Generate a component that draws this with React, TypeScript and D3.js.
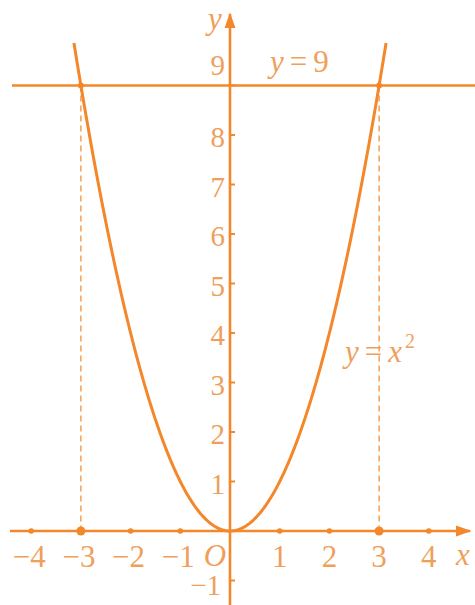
import React from "react";
import * as d3 from "d3";

const xTicks = [-4, -3, -2, -1, 1, 2, 3, 4];
const yTicks = [1, 2, 3, 4, 5, 6, 7, 8, 9];
const lineLevel = 9;
const intersections = [-3, 3];
const curveLimit = 3.14;

const W = 475;
const H = 605;
const STROKE = "#F3872A";
const TEXT = "#EF9F5C";
const FONT = "Liberation Serif, Times New Roman, serif";

export default function App() {
  const x = d3.scaleLinear().domain([0, 1]).range([230, 279.7]);
  const y = d3.scaleLinear().domain([0, 1]).range([531, 481.5]);

  const pts = d3.range(-curveLimit, curveLimit + 0.0001, 0.02).map((v) => [v, v * v] as [number, number]);
  const path = d3
    .line<[number, number]>()
    .x((d) => x(d[0]))
    .y((d) => y(d[1]))(pts);

  const x0 = x(0);
  const y0 = y(0);
  const fs = 31;

  return (
    <svg width={W} height={H} style={{ position: "absolute", left: 0, top: 0, background: "#fff" }}>
      <defs>
        <marker id="arr" viewBox="0 0 10 10" refX="9" refY="5" markerWidth="6" markerHeight="6" orient="auto">
          <path d="M0,1.5 L10,5 L0,8.5 z" fill={STROKE} />
        </marker>
      </defs>
      {/* x axis */}
      <line x1={10} x2={470} y1={y0} y2={y0} stroke={STROKE} strokeWidth={2.6} markerEnd="url(#arr)" />
      {/* y axis */}
      <line x1={x0} x2={x0} y1={605} y2={14} stroke={STROKE} strokeWidth={2.6} markerEnd="url(#arr)" />
      {/* horizontal line y=9 */}
      <line x1={12} x2={475} y1={y(lineLevel)} y2={y(lineLevel)} stroke={STROKE} strokeWidth={2.6} />
      {/* dashed verticals */}
      {intersections.map((v) => (
        <line key={v} x1={x(v)} x2={x(v)} y1={y(lineLevel)} y2={y0} stroke={STROKE} strokeWidth={1.2} strokeDasharray="6,4" />
      ))}
      {/* parabola */}
      <path d={path || ""} fill="none" stroke={STROKE} strokeWidth={3} />
      {/* x ticks */}
      {xTicks.map((t) => (
        <circle key={t} cx={x(t)} cy={y0} r={Math.abs(t) === 3 ? 4.5 : 2.8} fill={STROKE} />
      ))}
      {intersections.map((v) => (
        <circle key={"p" + v} cx={x(v)} cy={y(lineLevel)} r={3} fill={STROKE} />
      ))}
      {/* y ticks */}
      {yTicks.concat([-1]).map((t) => (
        <line key={t} x1={x0} x2={x0 + 5} y1={y(t)} y2={y(t)} stroke={STROKE} strokeWidth={2} />
      ))}
      {/* x tick labels */}
      {xTicks.map((t) => (
        <text key={t} x={x(t) + (t < 0 ? -2 : 0)} y={y0 + 36} fill={TEXT} fontFamily={FONT} fontSize={fs} textAnchor="middle">
          {t < 0 ? "\u2212" + Math.abs(t) : String(t)}
        </text>
      ))}
      <text x={x0 - 15} y={y0 + 35} fill={TEXT} fontFamily={FONT} fontSize={fs} fontStyle="italic" textAnchor="middle">
        O
      </text>
      <text x={463} y={y0 + 34} fill={TEXT} fontFamily={FONT} fontSize={fs} fontStyle="italic" textAnchor="middle">
        x
      </text>
      {/* y tick labels */}
      {yTicks.map((t) => (
        <text key={t} x={x0 - 5} y={y(t) + (t === 9 ? -11 : 12)} fill={TEXT} fontFamily={FONT} fontSize={fs - 2} textAnchor="end">
          {String(t)}
        </text>
      ))}
      <text x={x0 - 9} y={y(-1) + 14} fill={TEXT} fontFamily={FONT} fontSize={fs - 2} textAnchor="end">
        {"\u22121"}
      </text>
      <text x={x0 - 15} y={29} fill={TEXT} fontFamily={FONT} fontSize={fs} fontStyle="italic" textAnchor="middle">
        y
      </text>
      {/* labels */}
      <text x={270} y={72} fill={TEXT} fontFamily={FONT} fontSize={fs}>
        <tspan fontStyle="italic">y</tspan>
        <tspan dx={6}>=</tspan>
        <tspan dx={6}>9</tspan>
      </text>
      <text x={345} y={362} fill={TEXT} fontFamily={FONT} fontSize={fs}>
        <tspan fontStyle="italic">y</tspan>
        <tspan dx={6}>=</tspan>
        <tspan dx={6} fontStyle="italic">x</tspan>
        <tspan fontSize={20} dy={-14} dx={3}>2</tspan>
      </text>
    </svg>
  );
}
